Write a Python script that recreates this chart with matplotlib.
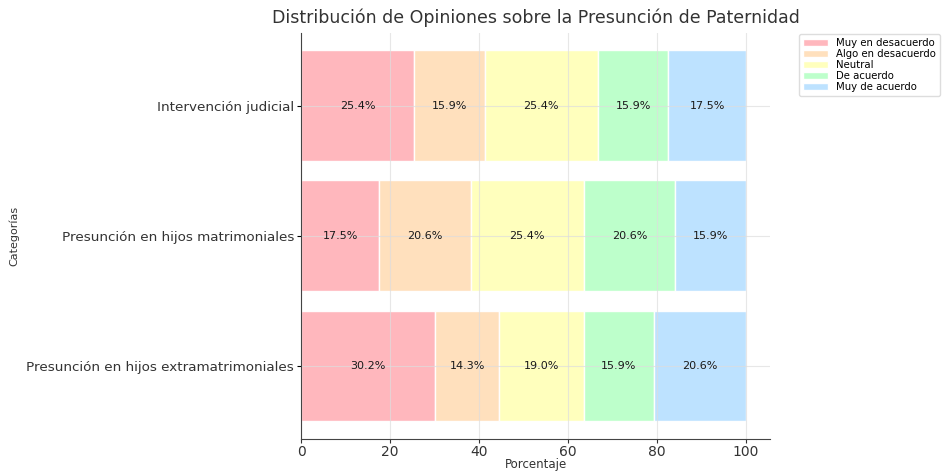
import numpy as np
import matplotlib.pyplot as plt

# Data (bottom to top in the chart)
categorias = ["Presunción en hijos extramatrimoniales",
              "Presunción en hijos matrimoniales",
              "Intervención judicial"]
opiniones = ["Muy en desacuerdo", "Algo en desacuerdo", "Neutral",
             "De acuerdo", "Muy de acuerdo"]
muy_desacuerdo = [30.2, 17.5, 25.4]
algo_desacuerdo = [14.3, 20.6, 15.9]
neutral = [19.0, 25.4, 25.4]
de_acuerdo = [15.9, 20.6, 15.9]
muy_acuerdo = [20.6, 15.9, 17.5]
colores = ["#FFB3BA", "#FFDFBA", "#FFFFBA", "#BAFFC9", "#BAE1FF"]

series = [muy_desacuerdo, algo_desacuerdo, neutral, de_acuerdo, muy_acuerdo]

fig = plt.figure(figsize=(9.44, 4.72), dpi=100)
ax = fig.add_axes([0.319, 0.07, 0.497, 0.861])

y = np.arange(len(categorias))
left = np.zeros(len(categorias))
for nombre, vals, col in zip(opiniones, series, colores):
    vals = np.array(vals)
    ax.barh(y, vals, left=left, height=0.85, color=col, alpha=0.95,
            edgecolor="white", linewidth=1, label=nombre, zorder=2)
    for yi, l, v in zip(y, left, vals):
        ax.text(l + v / 2, yi, f"{v:.1f}%", ha="center", va="center",
                fontsize=8, color="#1a1a1a", zorder=4)
    left += vals

ax.set_xlim(0, 105.5)
ax.set_ylim(-0.56, 2.56)
ax.set_yticks(y)
ax.set_yticklabels(categorias, fontsize=9.7, color="#333333")
ax.set_xticks([0, 20, 40, 60, 80, 100])
ax.tick_params(axis="x", labelsize=10, colors="#333333", pad=1.5, length=3)
ax.tick_params(axis="y", pad=2, length=3)
ax.set_xlabel("Porcentaje", fontsize=8.5, color="#333333", labelpad=-1)
ax.set_ylabel("Categorías", fontsize=8, color="#333333")
ax.yaxis.set_label_coords(-0.6, 0.5)
ax.set_title("Distribución de Opiniones sobre la Presunción de Paternidad",
             fontsize=12.5, color="#333333", pad=7)

ax.grid(True, color="#dddddd", linewidth=0.8, alpha=0.7, zorder=3)
ax.set_axisbelow(False)
for s in ["top", "right"]:
    ax.spines[s].set_visible(False)
for s in ["left", "bottom"]:
    ax.spines[s].set_color("#444444")
    ax.spines[s].set_zorder(5)

ax.legend(loc="upper left", bbox_to_anchor=(1.05, 1.01), fontsize=7.3,
          frameon=True, framealpha=1, edgecolor="#dddddd",
          handlelength=2.5, labelspacing=0.1, borderpad=0.4)

fig.savefig("out.png", dpi=100)
